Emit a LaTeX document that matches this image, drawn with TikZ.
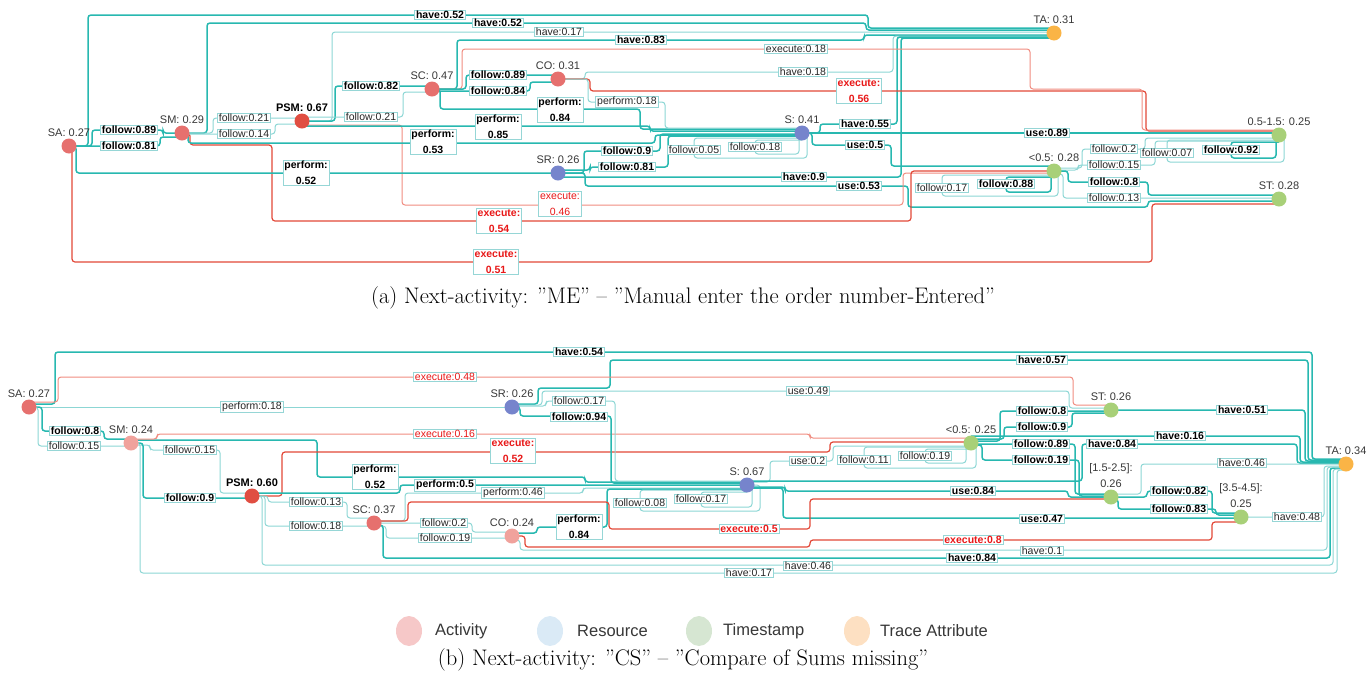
\documentclass[tikz,border=0pt]{standalone}
\usepackage{fontspec}
\newfontfamily\labelfont{Liberation Sans}
\usetikzlibrary{positioning, backgrounds, shapes.geometric}
\definecolor{EdgeHi}{RGB}{40,184,176}
\definecolor{EdgeLo}{RGB}{140,214,212}
\definecolor{ExecHi}{RGB}{226,72,56}
\definecolor{ExecLo}{RGB}{240,140,128}
\definecolor{BoxLine}{RGB}{150,214,214}
\definecolor{ExecText}{RGB}{232,24,24}
\definecolor{NodeText}{RGB}{55,55,55}
\definecolor{ActMid}{RGB}{230,112,110}
\definecolor{ActDark}{RGB}{224,78,66}
\definecolor{ActLight}{RGB}{240,162,156}
\definecolor{ResMid}{RGB}{118,132,204}
\definecolor{TimMid}{RGB}{168,208,120}
\definecolor{TrcMid}{RGB}{250,180,70}
\definecolor{ActLeg}{RGB}{246,200,200}
\definecolor{ResLeg}{RGB}{218,234,246}
\definecolor{TimLeg}{RGB}{214,230,210}
\definecolor{TrcLeg}{RGB}{253,224,194}

\begin{document}
\begin{tikzpicture}[x=1pt, y=-1pt,
    nd/.style={circle, inner sep=0pt, minimum size=15pt},
    act/.style={nd, fill=ActMid},
    actd/.style={nd, fill=ActDark},
    actl/.style={nd, fill=ActLight},
    res/.style={nd, fill=ResMid},
    tim/.style={nd, fill=TimMid},
    trc/.style={nd, fill=TrcMid},
    nlab/.style={font=\labelfont\fontsize{11}{16}\selectfont, text=NodeText,
                 inner sep=0.5pt, align=center},
    elab/.style={draw=BoxLine, fill=white, line width=0.8pt, inner xsep=1.5pt,
                 inner ysep=1pt, align=center, text=black!85,
                 font=\labelfont\fontsize{10.5}{16}\selectfont},
    elabb/.style={elab, text=black, font=\labelfont\bfseries\fontsize{10.5}{16}\selectfont},
    xlab/.style={elab, text=ExecText},
    xlabb/.style={elabb, text=ExecText},
    hi/.style={draw=EdgeHi, line width=1.5pt, rounded corners=3pt},
    lo/.style={draw=EdgeLo, line width=1pt, rounded corners=3pt},
    xhi/.style={draw=ExecHi, line width=1.2pt, rounded corners=3pt},
    xlo/.style={draw=ExecLo, line width=1pt, rounded corners=3pt},
    leg/.style={ellipse, inner sep=0pt, minimum width=26pt, minimum height=30pt},
    legtext/.style={anchor=west, inner sep=0pt, text=NodeText,
                    font=\labelfont\fontsize{16.5}{19}\selectfont},
    captext/.style={font=\fontsize{22.5}{26}\selectfont}
  ]
  \useasboundingbox (0,0) rectangle (1368,681);

  % (a)
  \node[act]  (aSA)  at (69,146)   {};
  \node[act]  (aSM)  at (182,133)  {};
  \node[actd] (aPSM) at (302,121)  {};
  \node[act]  (aSC)  at (432,89)   {};
  \node[act]  (aCO)  at (558,79)   {};
  \node[res]  (aS)   at (802,133)  {};
  \node[res]  (aSR)  at (558,173)  {};
  \node[trc]  (aTA)  at (1054,33)  {};
  \node[tim]  (aMid) at (1279,135) {};
  \node[tim]  (aLow) at (1054,171) {};
  \node[tim]  (aST)  at (1279,199) {};

  \node[nlab, above=1pt of aSA]  (aSAt)  {SA: 0.27};
  \node[nlab, above=1pt of aSM]  (aSMt)  {SM: 0.29};
  \node[nlab, above=1pt of aPSM, font=\labelfont\bfseries\fontsize{11}{16}\selectfont, text=black] (aPSMt) {PSM: 0.67};
  \node[nlab, above=1pt of aSC]  (aSCt)  {SC: 0.47};
  \node[nlab, above=1pt of aCO]  (aCOt)  {CO: 0.31};
  \node[nlab, above=1pt of aS]   (aSt)   {S: 0.41};
  \node[nlab, above=1pt of aSR]  (aSRt)  {SR: 0.26};
  \node[nlab, above=1pt of aTA]  (aTAt)  {TA: 0.31};
  \node[nlab, above=1pt of aMid] (aMidt) {0.5-1.5: 0.25};
  \node[nlab, above=1pt of aLow] (aLowt) {<0.5: 0.28};
  \node[nlab, above=1pt of aST]  (aSTt)  {ST: 0.28};

  \begin{scope}[on background layer]
    \draw[hi] (aSA.center) -- (88,146) -- (88,15) -- (868,15) -- (868,28) -- ([yshift=5pt]aTA.center);
    \draw[hi] (aSM.center) -- (207,133) -- (207,23) -- (866,23) -- (866,30) -- ([yshift=3pt]aTA.center);
    \draw[lo] (aPSM.center) -- (332,121) -- (332,32) -- ([yshift=1pt]aTA.center);
    \draw[hi] (aSC.center) -- (457,89) -- (457,40) -- (864,40) -- (864,35) -- ([yshift=-2pt]aTA.center);
    \draw[lo] (aCO.center) -- (585,79) -- (585,72) -- (893,72) -- (893,36) -- ([yshift=-3pt]aTA.center);
    \draw[hi] (aS.center) -- (820,133) -- (820,124) -- (897,124) -- (897,37) -- ([yshift=-4pt]aTA.center);
    \draw[hi] ([yshift=-4pt]aSR.center) -- (901,177) -- (901,38) -- ([yshift=-5pt]aTA.center);
    \draw[hi] (aSR.center) -- (585,173) -- (585,186) -- (908,186) -- (908,207) -- (1148,207) -- (1148,201) -- ([yshift=-2pt]aST.center);
    \draw[hi] (aS.center) -- ([yshift=2pt]aMid.center);
    \draw[hi] (aS.center) -- (812,133) -- (812,145) -- (891,145) -- (891,166) -- ([yshift=5pt]aLow.center);
    \draw[xhi] (aCO.center) -- (590,79) -- (590,91) -- (1146,91) -- (1146,131) -- ([yshift=4pt]aMid.center);
    \draw[xlo] (aSC.center) -- (462,89) -- (462,49) -- (1030,49) -- (1030,89) -- (1142,89) -- (1142,130) -- ([yshift=5pt]aMid.center);
    \draw[xlo] ([yshift=-4pt]aPSM.center) -- (402,125) -- (402,205) -- (903,205) -- (903,173) -- ([yshift=-2pt]aLow.center);
    \draw[xhi] (aSM.center) -- (190,133) -- (190,145) -- (272,145) -- (272,221) -- (911,221) -- (911,171) -- (aLow.center);
    \draw[xhi] (aSA.center) -- (72,146) -- (72,262) -- (1152,262) -- (1152,204) -- ([yshift=-5pt]aST.center);
    \draw[hi] (aSA.center) -- (92,146) -- (92,130) -- (163,130) -- (163,133) -- (aSM.center);
    \draw[hi] (aSA.center) -- (160,146) -- (160,137) -- ([yshift=-4pt]aSM.center);
    \draw[lo] (aSM.center) -- (213,133) -- (213,118) -- ([yshift=3pt]aPSM.center);
    \draw[lo] ([yshift=-1pt]aSM.center) -- (275,134) -- (275,124) -- ([yshift=-3pt]aPSM.center);
    \draw[hi] (aPSM.center) -- (335,121) -- (335,86) -- ([yshift=3pt]aSC.center);
    \draw[lo] ([yshift=4pt]aPSM.center) -- (403,117) -- (403,92) -- ([yshift=-3pt]aSC.center);
    \draw[hi] (aSC.center) -- (466,89) -- (466,75) -- ([yshift=4pt]aCO.center);
    \draw[hi] ([yshift=-2pt]aSC.center) -- (530,91) -- (530,82) -- ([yshift=-3pt]aCO.center);
    \draw[hi] (aSC.center) -- (440,89) -- (440,109) -- (640,109) -- (640,129) -- ([yshift=4pt]aS.center);
    \draw[hi] ([yshift=-5pt]aPSM.center) -- (650,126) -- (650,131) -- ([yshift=2pt]aS.center);
    \draw[hi] (aSM.center) -- (188,133) -- (188,143) -- (655,143) -- (655,135) -- ([yshift=-2pt]aS.center);
    \draw[hi] (aSA.center) -- (76,146) -- (76,173) -- (aSR.center);
    \draw[lo] (aCO.center) -- (588,79) -- (588,102) -- (665,102) -- (665,128) -- ([yshift=5pt]aS.center);
    \draw[hi] (aSR.center) -- (584,173) -- (584,151) -- (660,151) -- (660,134) -- ([yshift=-1pt]aS.center);
    \draw[hi] ([yshift=3pt]aSR.center) -- (590,170) -- (590,167) -- (668,167) -- (668,136) -- ([yshift=-3pt]aS.center);
    \draw[lo] (aS.center) -- (807,133) -- (807,158) -- (694,158) -- (694,138) -- ([yshift=-5pt]aS.center);
    \draw[lo] (aS.center) -- (799,133) -- (799,154) -- (755,154) -- (755,140) -- ([yshift=-7pt]aS.center);
    \draw[lo] (aLow.center) -- (1058,171) -- (1058,196) -- (942,196) -- (942,175) -- ([yshift=-4pt]aLow.center);
    \draw[hi] (aLow.center) -- (1051,171) -- (1051,192) -- (1006,192) -- (1006,177) -- ([yshift=-6pt]aLow.center);
    \draw[lo] (aMid.center) -- (1284,135) -- (1284,162) -- (1167,162) -- (1167,140) -- ([yshift=-5pt]aMid.center);
    \draw[hi] (aMid.center) -- (1276,135) -- (1276,158) -- (1231,158) -- (1231,142) -- ([yshift=-7pt]aMid.center);
    \draw[lo] ([yshift=3pt]aLow.center) -- (1082,168) -- (1082,149) -- (1145,149) -- (1145,138) -- ([yshift=-3pt]aMid.center);
    \draw[lo] ([yshift=1pt]aLow.center) -- (1078,170) -- (1078,165) -- (1155,165) -- (1155,141) -- ([yshift=-6pt]aMid.center);
    \draw[hi] (aLow.center) -- (1068,171) -- (1068,182) -- (1148,182) -- (1148,195) -- ([yshift=4pt]aST.center);
    \draw[lo] ([yshift=-3pt]aLow.center) -- (1063,174) -- (1063,198) -- ([yshift=1pt]aST.center);
  \end{scope}

  \node[elabb] (la1)  at (440,15)   {have:0.52};
  \node[elabb] (la2)  at (498,23)   {have:0.52};
  \node[elab]  (la3)  at (559,32)   {have:0.17};
  \node[elabb] (la4)  at (641,40)   {have:0.83};
  \node[elab]  (la5)  at (796,49)   {execute:0.18};
  \node[elab]  (la6)  at (803,72)   {have:0.18};
  \node[xlabb] (la7)  at (859,91)   {execute:\\0.56};
  \node[elabb] (la8)  at (865,124)  {have:0.55};
  \node[elabb] (la9)  at (1047,133) {use:0.89};
  \node[elabb] (la10) at (865,145)  {use:0.5};
  \node[elabb] (la11) at (804,177)  {have:0.9};
  \node[elabb] (la12) at (859,186)  {use:0.53};
  \node[xlab]  (la13) at (560,204)  {execute:\\0.46};
  \node[xlabb] (la14) at (499,221)  {execute:\\0.54};
  \node[xlabb] (la15) at (496,262)  {execute:\\0.51};
  \node[elabb] (la16) at (129,130)  {follow:0.89};
  \node[elabb] (la17) at (129,146)  {follow:0.81};
  \node[elab]  (la18) at (244,118)  {follow:0.21};
  \node[elab]  (la19) at (244,134)  {follow:0.14};
  \node[elabb] (la20) at (371,86)   {follow:0.82};
  \node[elab]  (la21) at (371,117)  {follow:0.21};
  \node[elabb] (la22) at (498,75)   {follow:0.89};
  \node[elabb] (la23) at (498,91)   {follow:0.84};
  \node[elabb] (la24) at (560,110)  {perform:\\0.84};
  \node[elabb] (la25) at (498,127)  {perform:\\0.85};
  \node[elabb] (la26) at (433,142)  {perform:\\0.53};
  \node[elabb] (la27) at (306,173)  {perform:\\0.52};
  \node[elab]  (la28) at (627,102)  {perform:0.18};
  \node[elabb] (la29) at (627,151)  {follow:0.9};
  \node[elabb] (la30) at (627,167)  {follow:0.81};
  \node[elab]  (la31) at (694,150)  {follow:0.05};
  \node[elab]  (la32) at (755,147)  {follow:0.18};
  \node[elab]  (la33) at (942,188)  {follow:0.17};
  \node[elabb] (la34) at (1006,184) {follow:0.88};
  \node[elab]  (la35) at (1167,153) {follow:0.07};
  \node[elabb] (la36) at (1231,150) {follow:0.92};
  \node[elab]  (la37) at (1114,149) {follow:0.2};
  \node[elab]  (la38) at (1114,165) {follow:0.15};
  \node[elabb] (la39) at (1114,182) {follow:0.8};
  \node[elab]  (la40) at (1114,198) {follow:0.13};

  \node[captext] (capA) at (683,298) {(a) Next-activity: ''ME'' -- ''Manual enter the order number-Entered''};

  % (b)
  \node[act]  (bSA)  at (29,407)   {};
  \node[actl] (bSM)  at (131,443)  {};
  \node[actd] (bPSM) at (252,496)  {};
  \node[act]  (bSC)  at (374,523)  {};
  \node[actl] (bCO)  at (512,536)  {};
  \node[res]  (bSR)  at (512,407)  {};
  \node[res]  (bS)   at (747,485)  {};
  \node[tim]  (bST)  at (1111,410) {};
  \node[tim]  (bLow) at (971,443)  {};
  \node[tim]  (bTwo) at (1111,497) {};
  \node[tim]  (bFour) at (1241,517) {};
  \node[trc]  (bTA)  at (1346,464) {};

  \node[nlab, above=1pt of bSA]  (bSAt)  {SA: 0.27};
  \node[nlab, above=1pt of bSM]  (bSMt)  {SM: 0.24};
  \node[nlab, above=1pt of bPSM, font=\labelfont\bfseries\fontsize{11}{16}\selectfont, text=black] (bPSMt) {PSM: 0.60};
  \node[nlab, above=1pt of bSC]  (bSCt)  {SC: 0.37};
  \node[nlab, above=1pt of bCO]  (bCOt)  {CO: 0.24};
  \node[nlab, above=1pt of bSR]  (bSRt)  {SR: 0.26};
  \node[nlab, above=1pt of bS]   (bSt)   {S: 0.67};
  \node[nlab, above=1pt of bST]  (bSTt)  {ST: 0.26};
  \node[nlab, above=1pt of bLow] (bLowt) {<0.5: 0.25};
  \node[nlab, above=1pt of bTwo] (bTwot) {[1.5-2.5]:\\0.26};
  \node[nlab, above=1pt of bFour] (bFourt) {[3.5-4.5]:\\0.25};
  \node[nlab, above=1pt of bTA]  (bTAt)  {TA: 0.34};

  \begin{scope}[on background layer]
    \draw[hi] ([yshift=3pt]bSA.center) -- (55,404) -- (55,352) -- (1312,352) -- (1312,459) -- ([yshift=5pt]bTA.center);
    \draw[hi] ([yshift=3pt]bSR.center) -- (538,404) -- (538,388) -- (610,388) -- (610,360) -- (1308,360) -- (1308,460) -- ([yshift=4pt]bTA.center);
    \draw[xlo] ([yshift=5pt]bSA.center) -- (58,402) -- (58,377) -- (1073,377) -- (1073,405) -- ([yshift=5pt]bST.center);
    \draw[lo] ([yshift=2pt]bSR.center) -- (542,405) -- (542,391) -- (1069,391) -- (1069,408) -- ([yshift=2pt]bST.center);
    \draw[lo] (bSA.center) -- (bSR.center);
    \draw[hi] (bSA.center) -- (42,407) -- (42,431) -- (104,431) -- (104,439) -- ([yshift=4pt]bSM.center);
    \draw[lo] (bSA.center) -- (38,407) -- (38,446) -- ([yshift=-3pt]bSM.center);
    \draw[hi] ([yshift=3pt]bSM.center) -- (317,440) -- (317,477) -- (585,477) -- (585,482) -- ([yshift=3pt]bS.center);
    \draw[xlo] ([yshift=4pt]bSM.center) -- (157,439) -- (157,434) -- (810,434) -- (810,438) -- ([yshift=5pt]bLow.center);
    \draw[xhi] (bPSM.center) -- (282,496) -- (282,452) -- (830,452) -- (830,442) -- ([yshift=1pt]bLow.center);
    \draw[lo] ([yshift=-2pt]bSM.center) -- (150,445) -- (150,450) -- (220,450) -- (220,493) -- ([yshift=3pt]bPSM.center);
    \draw[hi] (bSM.center) -- (143,443) -- (143,498) -- ([yshift=-2pt]bPSM.center);
    \draw[hi] ([yshift=3pt]bPSM.center) -- (400,493) -- (400,485) -- (bS.center);
    \draw[lo] ([yshift=2pt]bSC.center) -- (405,521) -- (405,493) -- (583,493) -- (583,488) -- ([yshift=-3pt]bS.center);
    \draw[hi] ([yshift=3pt]bCO.center) -- (537,533) -- (537,527) -- (607,527) -- (607,489) -- ([yshift=-4pt]bS.center);
    \draw[lo] (bPSM.center) -- (268,496) -- (268,502) -- (347,502) -- (347,518) -- ([yshift=5pt]bSC.center);
    \draw[lo] (bPSM.center) -- (265,496) -- (265,526) -- ([yshift=-3pt]bSC.center);
    \draw[lo] (bSC.center) -- (472,523) -- (472,532) -- ([yshift=4pt]bCO.center);
    \draw[lo] ([yshift=-3pt]bSC.center) -- (386,526) -- (386,538) -- ([yshift=-2pt]bCO.center);
    \draw[lo] (bS.center) -- (760,485) -- (760,511) -- (640,511) -- (640,490) -- ([yshift=-5pt]bS.center);
    \draw[lo] (bS.center) -- (752,485) -- (752,507) -- (701,507) -- (701,492) -- ([yshift=-7pt]bS.center);
    \draw[lo] ([yshift=1pt]bSR.center) -- (546,406) -- (546,401) -- (615,401) -- (615,481) -- ([yshift=4pt]bS.center);
    \draw[hi] (bSR.center) -- (520,407) -- (520,416) -- (611,416) -- (611,483) -- ([yshift=2pt]bS.center);
    \draw[lo] ([yshift=3pt]bS.center) -- (770,482) -- (770,461) -- (833,461) -- (833,446) -- ([yshift=-3pt]bLow.center);
    \draw[lo] (bLow.center) -- (976,443) -- (976,468) -- (864,468) -- (864,447) -- ([yshift=-4pt]bLow.center);
    \draw[lo] (bLow.center) -- (966,443) -- (966,463) -- (925,463) -- (925,449) -- ([yshift=-6pt]bLow.center);
    \draw[hi] ([yshift=-2pt]bS.center) -- (785,487) -- (785,491) -- (1068,491) -- (1068,497) -- (bTwo.center);
    \draw[hi] ([yshift=-3pt]bS.center) -- (783,488) -- (783,518) -- ([yshift=-1pt]bFour.center);
    \draw[xhi] ([yshift=2pt]bSC.center) -- (408,521) -- (408,502) -- (609,502) -- (609,529) -- (810,529) -- (810,499) -- ([yshift=-2pt]bTwo.center);
    \draw[xhi] (bCO.center) -- (525,536) -- (525,547) -- (810,547) -- (810,540) -- (1212,540) -- (1212,522) -- ([yshift=-5pt]bFour.center);
    \draw[hi] ([yshift=2pt]bLow.center) -- (1000,441) -- (1000,411) -- ([yshift=-1pt]bST.center);
    \draw[hi] ([yshift=4pt]bLow.center) -- (1004,439) -- (1004,427) -- (1072,427) -- (1072,413) -- ([yshift=-3pt]bST.center);
    \draw[hi] ([yshift=-1pt]bLow.center) -- (1075,444) -- (1075,494) -- ([yshift=3pt]bTwo.center);
    \draw[hi] ([yshift=-2pt]bLow.center) -- (982,445) -- (982,460) -- (1079,460) -- (1079,496) -- ([yshift=1pt]bTwo.center);
    \draw[hi] (bTwo.center) -- (1147,497) -- (1147,491) -- (1212,491) -- (1212,513) -- ([yshift=4pt]bFour.center);
    \draw[hi] ([yshift=-2pt]bTwo.center) -- (1118,499) -- (1118,509) -- (1216,509) -- (1216,515) -- ([yshift=2pt]bFour.center);
    \draw[hi] (bST.center) -- (1305,410) -- (1305,461) -- ([yshift=3pt]bTA.center);
    \draw[hi] ([yshift=7pt]bLow.center) -- (1300,436) -- (1300,462) -- ([yshift=2pt]bTA.center);
    \draw[hi] ([yshift=4pt]bS.center) -- (1082,481) -- (1082,444) -- (1297,444) -- (1297,463) -- ([yshift=1pt]bTA.center);
    \draw[lo] ([yshift=3pt]bTwo.center) -- (1141,494) -- (1141,464) -- (bTA.center);
    \draw[lo] (bFour.center) -- (1324,517) -- (1324,466) -- ([yshift=-2pt]bTA.center);
    \draw[hi] ([yshift=-2pt]bSC.center) -- (383,525) -- (383,558) -- (1330,558) -- (1330,468) -- ([yshift=-4pt]bTA.center);
    \draw[lo] ([yshift=-4pt]bCO.center) -- (520,540) -- (520,550) -- (1327,550) -- (1327,467) -- ([yshift=-3pt]bTA.center);
    \draw[lo] (bPSM.center) -- (262,496) -- (262,565) -- (1333,565) -- (1333,469) -- ([yshift=-5pt]bTA.center);
    \draw[lo] (bSM.center) -- (140,443) -- (140,573) -- (1337,573) -- (1337,470) -- ([yshift=-6pt]bTA.center);
  \end{scope}

  \node[elabb] (lb1)  at (579,352)  {have:0.54};
  \node[elabb] (lb2)  at (1042,360) {have:0.57};
  \node[xlab]  (lb3)  at (445,377)  {execute:0.48};
  \node[elab]  (lb4)  at (808,391)  {use:0.49};
  \node[elab]  (lb5)  at (252,407)  {perform:0.18};
  \node[elabb] (lb6)  at (75,431)   {follow:0.8};
  \node[elab]  (lb7)  at (74,446)   {follow:0.15};
  \node[elabb] (lb8)  at (375,477)  {perform:\\0.52};
  \node[xlab]  (lb9)  at (445,434)  {execute:0.16};
  \node[xlabb] (lb10) at (513,451)  {execute:\\0.52};
  \node[elab]  (lb11) at (190,450)  {follow:0.15};
  \node[elabb] (lb12) at (190,498)  {follow:0.9};
  \node[elabb] (lb13) at (445,485)  {perform:0.5};
  \node[elab]  (lb14) at (513,493)  {perform:0.46};
  \node[elabb] (lb15) at (579,527)  {perform:\\0.84};
  \node[elab]  (lb16) at (316,502)  {follow:0.13};
  \node[elab]  (lb17) at (316,526)  {follow:0.18};
  \node[elab]  (lb18) at (444,523)  {follow:0.2};
  \node[elab]  (lb19) at (445,538)  {follow:0.19};
  \node[elab]  (lb20) at (640,503)  {follow:0.08};
  \node[elab]  (lb21) at (701,499)  {follow:0.17};
  \node[elab]  (lb22) at (579,401)  {follow:0.17};
  \node[elabb] (lb23) at (579,417)  {follow:0.94};
  \node[elab]  (lb24) at (808,461)  {use:0.2};
  \node[elab]  (lb25) at (864,460)  {follow:0.11};
  \node[elab]  (lb26) at (925,456)  {follow:0.19};
  \node[elabb] (lb27) at (973,491)  {use:0.84};
  \node[elabb] (lb28) at (1042,519) {use:0.47};
  \node[xlabb] (lb29) at (749,529)  {execute:0.5};
  \node[xlabb] (lb30) at (973,540)  {execute:0.8};
  \node[elabb] (lb31) at (1042,411) {follow:0.8};
  \node[elabb] (lb32) at (1042,427) {follow:0.9};
  \node[elabb] (lb33) at (1041,444) {follow:0.89};
  \node[elabb] (lb34) at (1041,460) {follow:0.19};
  \node[elabb] (lb35) at (1179,491) {follow:0.82};
  \node[elabb] (lb36) at (1179,509) {follow:0.83};
  \node[elabb] (lb37) at (1242,410) {have:0.51};
  \node[elabb] (lb38) at (1180,436) {have:0.16};
  \node[elabb] (lb39) at (1112,444) {have:0.84};
  \node[elab]  (lb40) at (1242,463) {have:0.46};
  \node[elab]  (lb41) at (1297,517) {have:0.48};
  \node[elabb] (lb42) at (972,558)  {have:0.84};
  \node[elab]  (lb43) at (1042,551) {have:0.1};
  \node[elab]  (lb44) at (808,566)  {have:0.46};
  \node[elab]  (lb45) at (749,573)  {have:0.17};

  \node[leg, fill=ActLeg] (legA) at (409,631) {};
  \node[legtext] (legAt) at (435,631) {Activity};
  \node[leg, fill=ResLeg] (legR) at (550,631) {};
  \node[legtext] (legRt) at (577,631) {Resource};
  \node[leg, fill=TimLeg] (legT) at (699,631) {};
  \node[legtext] (legTt) at (723,631) {Timestamp};
  \node[leg, fill=TrcLeg] (legC) at (857,631) {};
  \node[legtext] (legCt) at (880,631) {Trace Attribute};

  \node[captext] (capB) at (683,660) {(b) Next-activity: ''CS'' -- ''Compare of Sums missing''};
\end{tikzpicture}
\end{document}
